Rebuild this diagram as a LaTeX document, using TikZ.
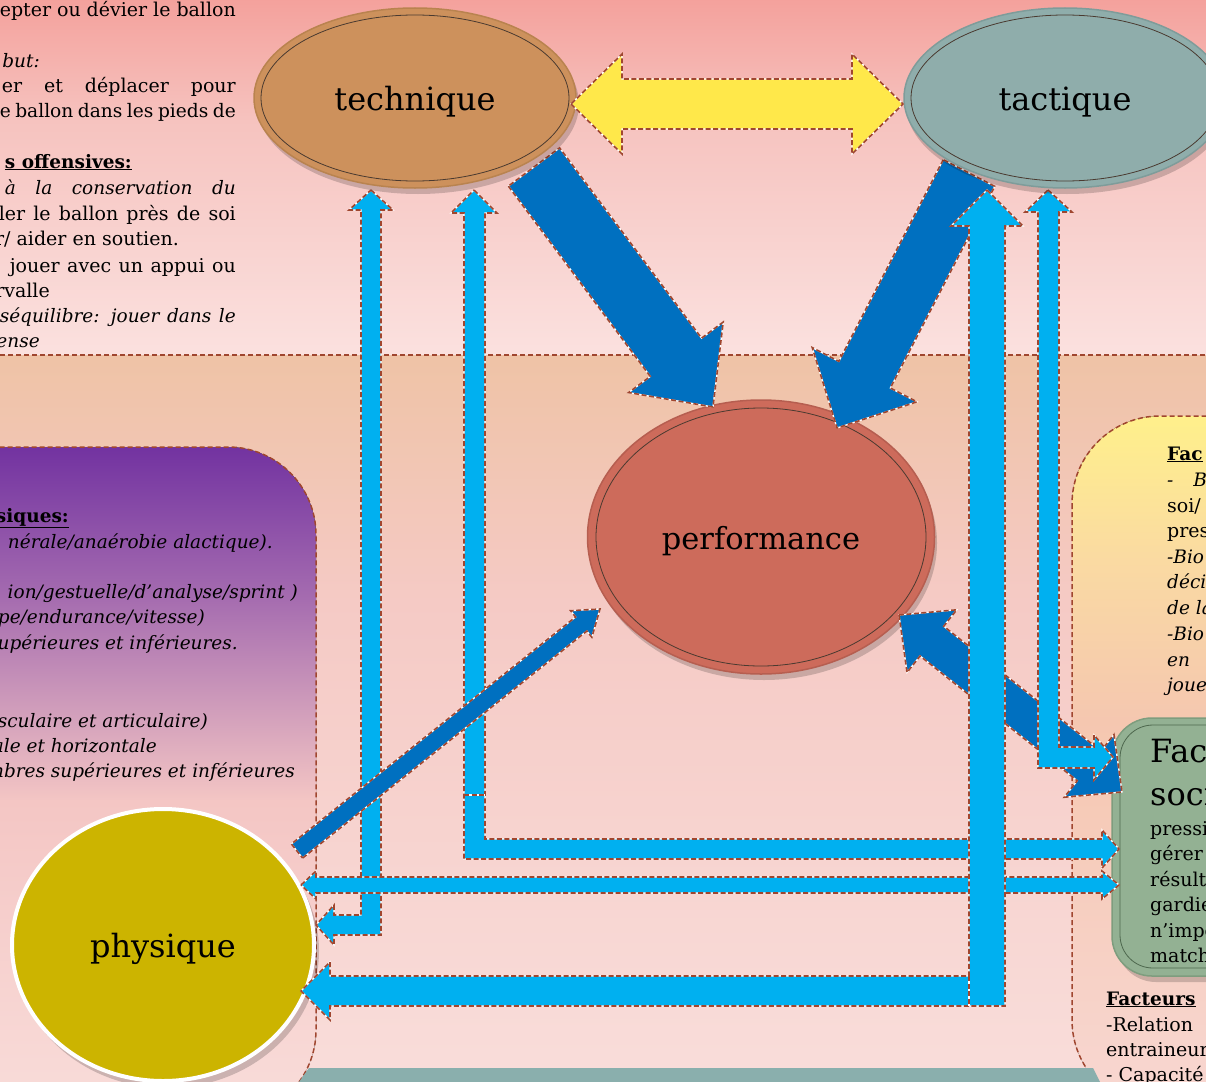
\documentclass[tikz,border=0pt]{standalone}
\usepackage{fontspec}
\setmainfont{DejaVu Serif}
\usetikzlibrary{shapes.geometric}
\definecolor{bgA}{HTML}{F4A19C}
\definecolor{bgB}{HTML}{F6C3BF}
\definecolor{bgC}{HTML}{FBE1DF}
\definecolor{bgD}{HTML}{EFC3A6}
\definecolor{bgE}{HTML}{F5CAC5}
\definecolor{bgF}{HTML}{F9DDDA}
\definecolor{purA}{HTML}{7030A0}
\definecolor{purB}{HTML}{A66DB0}
\definecolor{purC}{HTML}{F4C6C4}
\definecolor{yelA}{HTML}{FFF18A}
\definecolor{yelB}{HTML}{FADAA2}
\definecolor{yelC}{HTML}{F5C7B0}
\definecolor{yelD}{HTML}{F8D7D2}
\definecolor{dashbrown}{HTML}{A0462F}
\definecolor{darkblue}{HTML}{0070C0}
\definecolor{lightblue}{HTML}{00B0F0}
\definecolor{arrowyellow}{HTML}{FFE84A}
\definecolor{techfill}{HTML}{CD915C}
\definecolor{techring}{HTML}{B9834F}
\definecolor{tactfill}{HTML}{8FADAB}
\definecolor{tactring}{HTML}{7E9C9A}
\definecolor{perffill}{HTML}{CD6B5B}
\definecolor{perfring}{HTML}{B65E50}
\definecolor{physfill}{HTML}{CCB400}
\definecolor{greenfill}{HTML}{93B193}
\definecolor{greenedge}{HTML}{7E9D7E}
\definecolor{greenline}{HTML}{4E684E}
\definecolor{tealband}{HTML}{8AAFAD}
\definecolor{ringline}{HTML}{4A3A30}

\newcommand\blkarrow[6]{%
  \path (#1); \pgfgetlastxy{\bkax}{\bkay}%
  \path (#2); \pgfgetlastxy{\bkbx}{\bkby}%
  \pgfmathsetmacro\bkang{atan2(\bkby-\bkay,\bkbx-\bkax)}%
  \pgfmathsetmacro\bklen{veclen(\bkbx-\bkax,\bkby-\bkay)}%
  \path[#6,shift={(#1)},rotate=\bkang] (0,#3) -- ({\bklen-#5},#3) -- ({\bklen-#5},#4) -- (\bklen,0) -- ({\bklen-#5},-#4) -- ({\bklen-#5},-#3) -- (0,-#3) -- cycle;%
}
\newcommand\dblarrow[6]{%
  \path (#1); \pgfgetlastxy{\bkax}{\bkay}%
  \path (#2); \pgfgetlastxy{\bkbx}{\bkby}%
  \pgfmathsetmacro\bkang{atan2(\bkby-\bkay,\bkbx-\bkax)}%
  \pgfmathsetmacro\bklen{veclen(\bkbx-\bkax,\bkby-\bkay)}%
  \path[#6,shift={(#1)},rotate=\bkang] (0,0) -- (#5,#4) -- (#5,#3) -- ({\bklen-#5},#3) -- ({\bklen-#5},#4) -- (\bklen,0) -- ({\bklen-#5},-#4) -- ({\bklen-#5},-#3) -- (#5,-#3) -- (#5,-#4) -- cycle;%
}

\tikzset{
  outl/.style={draw=white, line width=1.3pt, postaction={draw=dashbrown, line width=1.6pt, dash pattern=on 5pt off 2.5pt}},
  darkarr/.style={fill=darkblue, outl},
  lightarr/.style={fill=lightblue, outl},
  yelarr/.style={fill=arrowyellow, outl},
  boxdash/.style={draw=dashbrown, line width=1.5pt, dash pattern=on 5pt off 3pt},
  tx/.style={font=\fontsize{19}{22}\selectfont, inner sep=0pt},
  txit/.style={font=\fontsize{18.5}{22}\selectfont\itshape, inner sep=0pt},
  txbf/.style={font=\fontsize{18.5}{22}\selectfont\bfseries, inner sep=0pt},
  bigtx/.style={font=\fontsize{32}{36}\selectfont, inner sep=0pt},
  oval/.style={ellipse, inner sep=0pt, font=\fontsize{32}{36}\selectfont},
  shadowfill/.style={fill=black, opacity=0.18}
}

\begin{document}
\begin{tikzpicture}[x=1pt,y=-1pt]
\useasboundingbox (0,0) rectangle (1206,1081);
\clip (0,0) rectangle (1206,1081);

% background
\fill[top color=bgA,bottom color=bgB] (0,-1) rectangle (1206,121);
\fill[top color=bgB,bottom color=bgC] (0,120) rectangle (1206,356);
\fill[top color=bgD,bottom color=bgE] (0,355) rectangle (1206,601);
\fill[top color=bgE,bottom color=bgF] (0,600) rectangle (1206,1082);

% purple box
\begin{scope}
\clip[rounded corners=88pt] (-200,447) rectangle (316,1118);
\fill[top color=purA,bottom color=purB] (-10,440) rectangle (320,601);
\fill[top color=purB,bottom color=purC] (-10,600) rectangle (320,801);
\fill[top color=purC,bottom color=bgF] (-10,800) rectangle (320,1120);
\end{scope}
\draw[boxdash, rounded corners=88pt] (-200,447) rectangle (316,1118);

% yellow box
\begin{scope}
\clip[rounded corners=88pt] (1072,416) rectangle (1400,1108);
\fill[top color=yelA,bottom color=yelB] (1060,410) rectangle (1210,561);
\fill[top color=yelB,bottom color=yelC] (1060,560) rectangle (1210,721);
\fill[top color=yelC,bottom color=yelD] (1060,720) rectangle (1210,1110);
\end{scope}
\draw[boxdash, rounded corners=88pt] (1072,416) rectangle (1400,1108);

% teal band at the bottom
\fill[tealband] (309,1068) -- (1093,1068) -- (1100,1082) -- (299,1082) -- cycle;

% separator
\draw[boxdash] (0,355) -- (1206,355);

% green box
\fill[shadowfill, rounded corners=40pt] (1116,724) rectangle (1260,982);
\draw[draw=greenedge, fill=greenfill, line width=1.5pt, rounded corners=40pt] (1112,718) rectangle (1260,976);
\draw[draw=greenline, line width=0.8pt, rounded corners=33pt] (1120,725) rectangle (1260,968);

% performance and physique ellipses
\fill[shadowfill] (764,543) ellipse [x radius=173pt, y radius=137pt];
\node[oval, fill=perffill, draw=perfring, line width=1.5pt, minimum width=347pt, minimum height=274pt] (perf) at (761,537) {};
\draw[ringline, line width=0.8pt] (perf.center) ellipse [x radius=165pt, y radius=129pt];
\node[font=\fontsize{30.5}{34}\selectfont, inner sep=0pt] at ([yshift=-4pt]perf.center) {performance};

\fill[shadowfill] (167,951) ellipse [x radius=152pt, y radius=137pt];
\node[oval, fill=physfill, draw=white, line width=4pt, minimum width=302pt, minimum height=272pt] (phys) at (163,945) {};
\node[bigtx] at ([yshift=-4pt]phys.center) {physique};

% dark blue arrows (under the light ones)
\coordinate (a1s) at (534,167); \coordinate (a1e) at (713,407);
\coordinate (a2s) at (969,173); \coordinate (a2e) at (837,428);
\coordinate (a4s) at (899,615); \coordinate (a4e) at (1122,792);
\blkarrow{a1s}{a1e}{32}{59}{62}{darkarr}
\blkarrow{a2s}{a2e}{29}{59}{60}{darkarr}
\dblarrow{a4s}{a4e}{19}{40}{42}{darkarr}

% light blue elbow arrows
\coordinate (b1t) at (371,190); \coordinate (b1l) at (316,925);
\path[lightarr] (b1t) -- (393,210) -- (381,210) -- (381,935) -- (334,935) -- (334,945) -- (b1l) -- (334,905) -- (334,915) -- (361,915) -- (361,210) -- (349,210) -- cycle;

\coordinate (b2t) at (474,190); \coordinate (b2r) at (1119,849);
\path[lightarr] (b2t) -- (497,213) -- (485,213) -- (485,839) -- (1102,839) -- (1102,830) -- (b2r) -- (1102,868) -- (1102,859) -- (464,859) -- (464,213) -- (451,213) -- cycle;
\draw[outl] (464,795) -- (485,795);

\coordinate (b3l) at (301,885); \coordinate (b3r) at (1119,885);
\path[lightarr] (b3l) -- (316,871) -- (316,877) -- (1102,877) -- (1102,871) -- (b3r) -- (1102,899) -- (1102,893) -- (316,893) -- (316,899) -- cycle;

\coordinate (b4t) at (987,190); \coordinate (b4l) at (301,991);
\path[lightarr] (b4t) -- (1023,226) -- (1005,226) -- (1005,1006) -- (330,1006) -- (330,1020) -- (b4l) -- (330,962) -- (330,976) -- (969,976) -- (969,226) -- (951,226) -- cycle;
\draw[outl] (969,976) -- (969,1006);

\coordinate (b5t) at (1048,190); \coordinate (b5r) at (1113,757);
\path[lightarr] (b5t) -- (1072,212) -- (1059,212) -- (1059,747) -- (1094,747) -- (1094,735) -- (b5r) -- (1094,780) -- (1094,768) -- (1038,768) -- (1038,212) -- (1025,212) -- cycle;

% thin dark arrow physique -> performance (on top)
\coordinate (a3s) at (297,851); \coordinate (a3e) at (600,609);
\blkarrow{a3s}{a3e}{9}{17}{24}{darkarr}

% technique and tactique
\fill[shadowfill] (418,104) ellipse [x radius=161pt, y radius=90pt];
\node[oval, fill=techfill, draw=techring, line width=1.5pt, minimum width=322pt, minimum height=180pt] (tech) at (415,98) {};
\draw[ringline, line width=0.8pt] (tech.center) ellipse [x radius=154pt, y radius=83pt];
\node[bigtx] at ([yshift=-4pt]tech.center) {technique};

\fill[shadowfill] (1067,104) ellipse [x radius=161pt, y radius=90pt];
\node[oval, fill=tactfill, draw=tactring, line width=1.5pt, minimum width=322pt, minimum height=180pt] (tact) at (1065,98) {};
\draw[ringline, line width=0.8pt] (tact.center) ellipse [x radius=154pt, y radius=83pt];
\node[bigtx] at ([yshift=-4pt]tact.center) {tactique};

% yellow double arrow technique <-> tactique
\coordinate (ys) at (571,104); \coordinate (ye) at (903,104);
\dblarrow{ys}{ye}{25}{50}{51}{yelarr}

% ---- texts top-left
\node[tx,anchor=base east] (l1) at (236,17) {\makebox[236pt][s]{epter ou dévier le ballon}};
\node[txit,anchor=base east] (l2) at (40,67) {but:};
\node[tx,anchor=base east] (l3) at (236,92) {\makebox[234pt][s]{er et déplacer pour}};
\node[tx,anchor=base east] (l4) at (236,117) {\fontsize{18.6}{22}\selectfont\makebox[236pt][s]{e ballon dans les pieds de}};
\node[txbf,anchor=base east] (l5) at (132,168) {\underline{s offensives:}};
\node[txit,anchor=base east] (l6) at (236,194) {\makebox[231pt][s]{à la conservation du}};
\node[tx,anchor=base east] (l7) at (236,220) {\makebox[237pt][s]{ler le ballon près de soi}};
\node[tx,anchor=base east] (l8) at (179,245) {r/ aider en soutien.};
\node[tx,anchor=base east] (l9) at (236,272) {\makebox[226pt][s]{jouer avec un appui ou}};
\node[tx,anchor=base east] (l10) at (50,297) {rvalle};
\node[txit,anchor=base east] (l11) at (236,322) {\makebox[236pt][s]{séquilibre: jouer dans le}};
\node[txit,anchor=base east] (l12) at (40,347) {fense};

% ---- texts purple box
\node[txbf,anchor=base east] (p1) at (69,522) {\underline{siques:}};
\node[txit,anchor=base east] (p2) at (273,548) {nérale/anaérobie alactique).};
\node[txit,anchor=base east] (p3) at (298,598) {ion/gestuelle/d’analyse/sprint )};
\node[txit,anchor=base east] (p4) at (205,623) {pe/endurance/vitesse)};
\node[txit,anchor=base east] (p5) at (238,649) {upérieures et inférieures.};
\node[txit,anchor=base east] (p6) at (208,727) {sculaire et articulaire)};
\node[txit,anchor=base east] (p7) at (157,752) {ale et horizontale};
\node[txit,anchor=base east] (p8) at (295,777) {nbres supérieures et inférieures};

% ---- texts yellow box
\node[txbf,anchor=base west] (y1) at (1167,460) {\underline{Fac}};
\node[txit,anchor=base west] (y2) at (1167,486) {-\hspace{20pt}B};
\node[tx,anchor=base west] (y3) at (1167,512) {soi/};
\node[tx,anchor=base west] (y4) at (1167,537) {pres};
\node[txit,anchor=base west] (y5) at (1167,563) {-Bio};
\node[txit,anchor=base west] (y6) at (1167,588) {déci};
\node[txit,anchor=base west] (y7) at (1167,614) {de la};
\node[txit,anchor=base west] (y8) at (1167,640) {-Bio};
\node[txit,anchor=base west] (y9) at (1167,666) {en};
\node[txit,anchor=base west] (y10) at (1167,691) {joue};

% ---- texts green box
\node[bigtx,anchor=base west] (g1) at (1150,762) {Fac};
\node[bigtx,anchor=base west] (g2) at (1150,805) {soci};
\node[tx,anchor=base west] (g3) at (1150,835) {pressio};
\node[tx,anchor=base west] (g4) at (1150,860) {gérer};
\node[tx,anchor=base west] (g5) at (1150,886) {résulta};
\node[tx,anchor=base west] (g6) at (1150,911) {gardie};
\node[tx,anchor=base west] (g7) at (1150,937) {n’impo};
\node[tx,anchor=base west] (g8) at (1150,962) {match};

% ---- texts bottom right
\node[txbf,anchor=base west] (r1) at (1106,1005) {\underline{Facteurs}};
\node[tx,anchor=base west] (r2) at (1106,1031) {-Relation};
\node[tx,anchor=base west] (r3) at (1106,1056) {entraineur};
\node[tx,anchor=base west] (r4) at (1106,1081) {- Capacité};
\end{tikzpicture}
\end{document}
